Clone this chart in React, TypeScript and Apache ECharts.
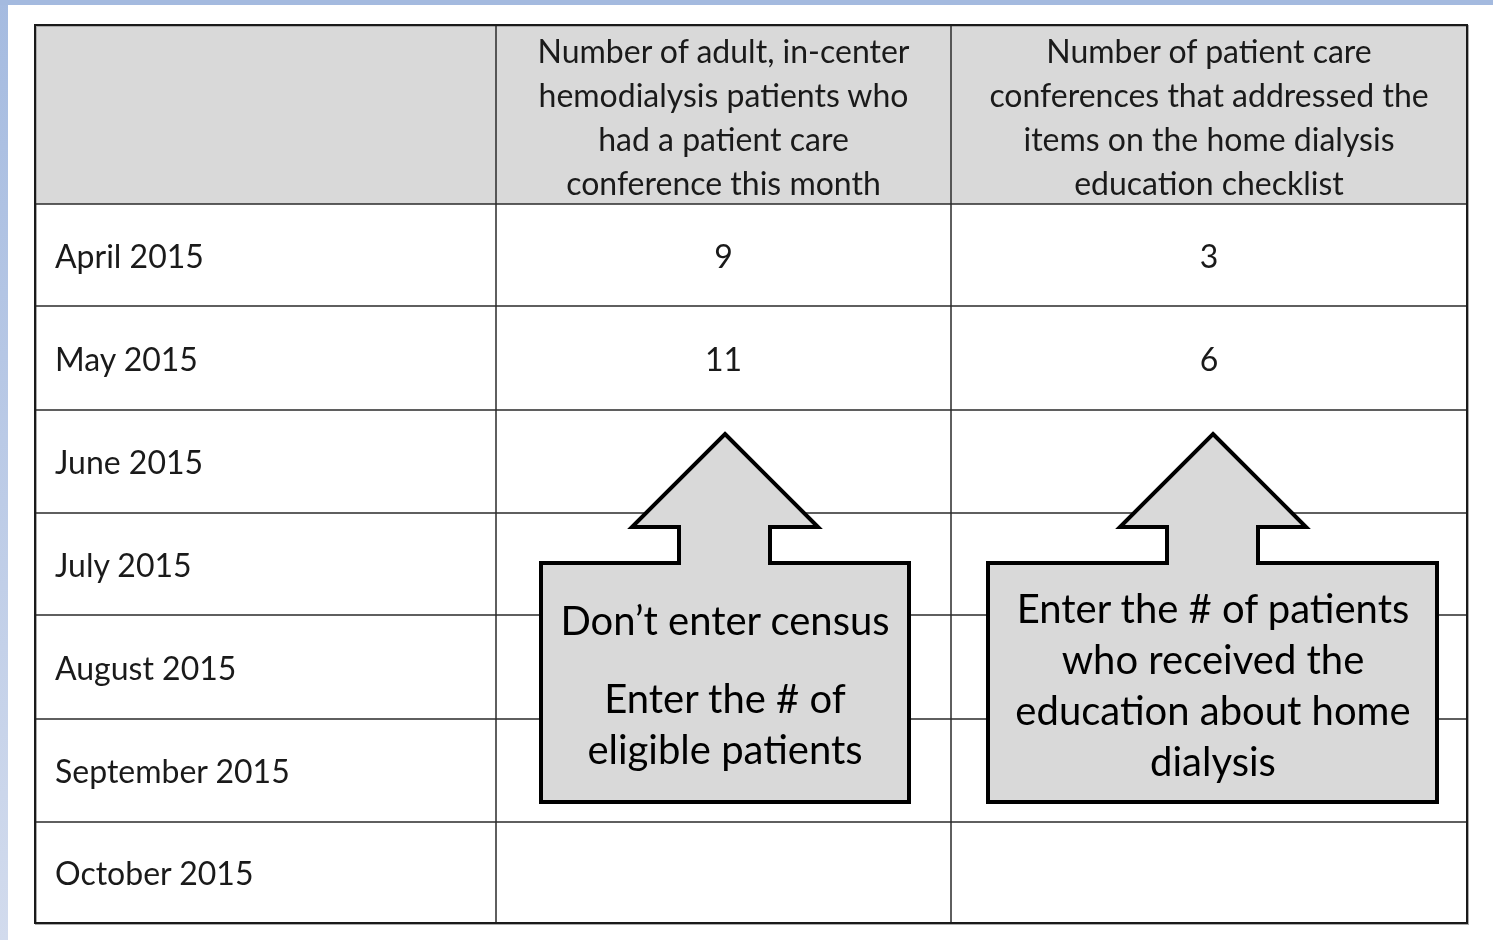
import React, { useEffect, useRef } from "react";
import * as echarts from "echarts";

// ---- data ----
const columnHeaders = [
  "",
  "Number of adult, in-center\nhemodialysis patients who\nhad a patient care\nconference this month",
  "Number of patient care\nconferences that addressed the\nitems on the home dialysis\neducation checklist",
];
const months = [
  "April 2015",
  "May 2015",
  "June 2015",
  "July 2015",
  "August 2015",
  "September 2015",
  "October 2015",
];
const patientsWithConference: (number | null)[] = [9, 11, null, null, null, null, null];
const conferencesAddressed: (number | null)[] = [3, 6, null, null, null, null, null];
const callout1Title = "Don\u2019t enter census";
const callout1Text = "Enter the # of\neligible patients";
const callout2Text = "Enter the # of patients\nwho received the\neducation about home\ndialysis";

// ---- layout ----
const colEdges = [35, 496, 951, 1467];
const rowEdges = [25, 204, 306, 410, 513, 615, 719, 822, 923];
const FONT = "Lato";
const TEXT = "#1a1a1a";

function arrowCallout(tipX: number, tipY: number, baseY: number, halfHead: number, stemL: number, stemR: number, box: [number, number, number, number]) {
  const [l, t, r, b] = box;
  return [
    [tipX, tipY],
    [tipX + halfHead, baseY],
    [stemR, baseY],
    [stemR, t],
    [r, t],
    [r, b],
    [l, b],
    [l, t],
    [stemL, t],
    [stemL, baseY],
    [tipX - halfHead, baseY],
  ];
}

export default function App() {
  const ref = useRef<HTMLDivElement>(null);
  useEffect(() => {
    document.body.style.margin = "0";
    const chart = echarts.init(ref.current!, null, { renderer: "svg" });
    const els: any[] = [];
    // background strips
    els.push({
      type: "rect",
      shape: { x: 0, y: 0, width: 1493, height: 940 },
      style: { fill: "#ffffff" },
      silent: true,
    });
    els.push({
      type: "rect",
      shape: { x: 0, y: 0, width: 8, height: 940 },
      style: {
        fill: new echarts.graphic.LinearGradient(0, 0, 0, 1, [
          { offset: 0, color: "#a5bbe0" },
          { offset: 1, color: "#d2dbed" },
        ]),
      },
      silent: true,
    });
    els.push({
      type: "rect",
      shape: { x: 0, y: 0, width: 1493, height: 5 },
      style: { fill: "#a4badf" },
      silent: true,
    });
    // header background
    els.push({
      type: "rect",
      shape: { x: colEdges[0], y: rowEdges[0], width: colEdges[3] - colEdges[0], height: rowEdges[1] - rowEdges[0] },
      style: { fill: "#d9d9d9" },
    });
    // outer shadow
    els.push({
      type: "rect",
      shape: { x: colEdges[0] + 1, y: rowEdges[0] + 1, width: colEdges[3] - colEdges[0], height: rowEdges[8] - rowEdges[0] },
      style: { fill: "none", stroke: "#aaaaaa", lineWidth: 2 },
    });
    // grid lines
    for (let i = 1; i < rowEdges.length - 1; i++) {
      els.push({
        type: "line",
        shape: { x1: colEdges[0], y1: rowEdges[i], x2: colEdges[3], y2: rowEdges[i] },
        style: { stroke: "#2a2a2a", lineWidth: 1.5 },
      });
    }
    for (let i = 1; i < colEdges.length - 1; i++) {
      els.push({
        type: "line",
        shape: { x1: colEdges[i], y1: rowEdges[0], x2: colEdges[i], y2: rowEdges[8] },
        style: { stroke: "#2a2a2a", lineWidth: 1.5 },
      });
    }
    els.push({
      type: "rect",
      shape: { x: colEdges[0], y: rowEdges[0], width: colEdges[3] - colEdges[0], height: rowEdges[8] - rowEdges[0] },
      style: { fill: "none", stroke: "#1a1a1a", lineWidth: 2 },
    });
    // headers
    columnHeaders.forEach((h, c) => {
      if (!h) return;
      els.push({
        type: "text",
        x: (colEdges[c] + colEdges[c + 1]) / 2,
        y: (rowEdges[0] + rowEdges[1]) / 2 + 2,
        style: {
          text: h,
          fill: TEXT,
          font: `32px ${FONT}`,
          align: "center",
          verticalAlign: "middle",
          lineHeight: 44,
        },
      });
    });
    // rows
    months.forEach((m, r) => {
      const cy = (rowEdges[r + 1] + rowEdges[r + 2]) / 2;
      els.push({
        type: "text",
        x: 55,
        y: cy,
        style: { text: m, fill: TEXT, font: `32px ${FONT}`, align: "left", verticalAlign: "middle" },
      });
      [patientsWithConference[r], conferencesAddressed[r]].forEach((v, k) => {
        if (v == null) return;
        els.push({
          type: "text",
          x: (colEdges[k + 1] + colEdges[k + 2]) / 2,
          y: cy,
          style: { text: String(v), fill: TEXT, font: `32px ${FONT}`, align: "center", verticalAlign: "middle" },
        });
      });
    });
    // callouts
    const c1 = arrowCallout(725, 434, 527, 93, 679, 770, [541, 563, 909, 802]);
    const c2 = arrowCallout(1213, 434, 527, 93, 1167, 1258, [988, 563, 1437, 802]);
    [c1, c2].forEach((pts) => {
      els.push({
        type: "polygon",
        shape: { points: pts },
        style: { fill: "#d9d9d9", stroke: "#000000", lineWidth: 4, lineJoin: "miter" },
      });
    });
    els.push({
      type: "text",
      x: 725,
      y: 620,
      style: { text: callout1Title, fill: "#000", font: `40px ${FONT}`, align: "center", verticalAlign: "middle" },
    });
    els.push({
      type: "text",
      x: 725,
      y: 723,
      style: { text: callout1Text, fill: "#000", font: `40px ${FONT}`, align: "center", verticalAlign: "middle", lineHeight: 51 },
    });
    els.push({
      type: "text",
      x: 1213,
      y: 684,
      style: { text: callout2Text, fill: "#000", font: `40px ${FONT}`, align: "center", verticalAlign: "middle", lineHeight: 51 },
    });

    chart.setOption({ animation: false, graphic: { elements: els } });
    return () => chart.dispose();
  }, []);
  return <div ref={ref} style={{ position: "fixed", left: 0, top: 0, width: 1493, height: 940 }} />;
}
